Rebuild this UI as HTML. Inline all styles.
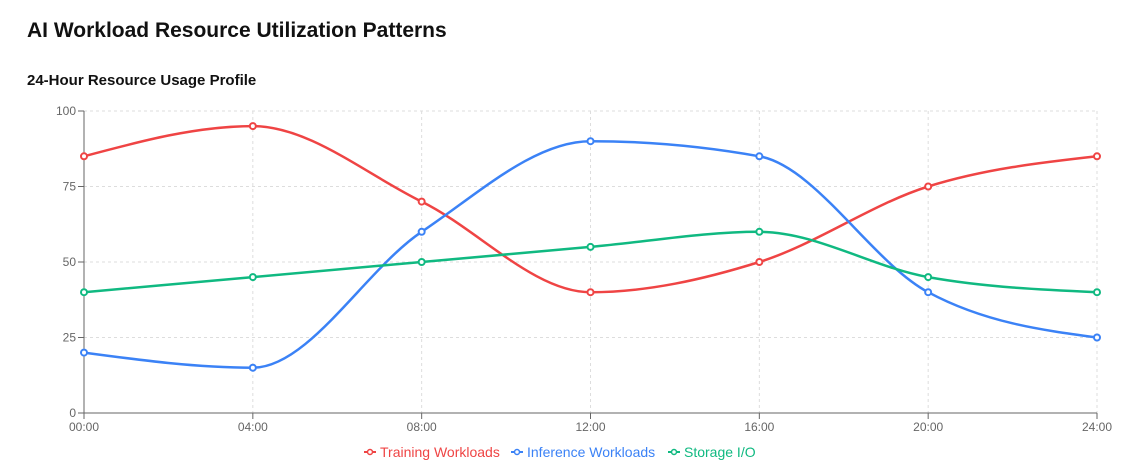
<!DOCTYPE html>
<html><head><meta charset="utf-8"><style>
body{margin:0;background:#fff;font-family:"Liberation Sans",sans-serif;width:1126px;height:473px;overflow:hidden;position:relative}
h1{position:absolute;left:27px;top:19px;margin:0;font-size:21px;font-weight:bold;color:#111}
h2{position:absolute;left:27px;top:72px;margin:0;font-size:15px;font-weight:bold;color:#111}
</style></head><body>
<h1>AI Workload Resource Utilization Patterns</h1>
<h2>24-Hour Resource Usage Profile</h2>
<svg id="chart" width="1126" height="473" style="position:absolute;left:0;top:0"></svg>
<script>
const categories=["00:00","04:00","08:00","12:00","16:00","20:00","24:00"];
const training=[85,95,70,40,50,75,85];
const inference=[20,15,60,90,85,40,25];
const storage=[40,45,50,55,60,45,40];
const yTicks=[0,25,50,75,100];
const seriesNames=["Training Workloads","Inference Workloads","Storage I/O"];
const seriesColors=["#ef4444","#3b82f6","#10b981"];
const NS="http://www.w3.org/2000/svg";
const svg=document.getElementById('chart');
const X0=84,X1=1097,Y0=413,Y1=111;
const xS=i=>X0+(X1-X0)*i/(categories.length-1);
const yS=v=>Y0-(Y0-Y1)*v/100;
function mk(t,a,p){const e=document.createElementNS(NS,t);for(const k in a)e.setAttribute(k,a[k]);(p||svg).appendChild(e);return e;}
// grid
yTicks.forEach(v=>{if(v>0){const g=mk('line',{x1:X0,x2:X1,y1:yS(v),y2:yS(v),stroke:'#ddd','stroke-dasharray':'3 3'});

}});
categories.forEach((c,i)=>{if(i>0){const g=mk('line',{x1:xS(i),x2:xS(i),y1:Y1,y2:Y0,stroke:'#ddd','stroke-dasharray':'3 3'});

}});
// axes
const ax=mk('line',{x1:X0,x2:X1,y1:Y0,y2:Y0,stroke:'#666'});


const ay=mk('line',{x1:X0,x2:X0,y1:Y1,y2:Y0,stroke:'#666'});


yTicks.forEach(v=>{mk('line',{x1:X0-6,x2:X0,y1:yS(v),y2:yS(v),stroke:'#666'});
const t=mk('text',{x:X0-8,y:yS(v)+4,'text-anchor':'end','font-size':12,fill:'#666'});t.textContent=v;

});
categories.forEach((c,i)=>{mk('line',{x1:xS(i),x2:xS(i),y1:Y0,y2:Y0+6,stroke:'#666'});
const t=mk('text',{x:xS(i),y:Y0+18,'text-anchor':'middle','font-size':12,fill:'#666'});t.textContent=c;

});
// monotone X path
function monoPath(pts){const n=pts.length;const d=[],m=[];
for(let i=0;i<n-1;i++){d.push((pts[i+1][1]-pts[i][1])/(pts[i+1][0]-pts[i][0]));}
for(let i=0;i<n;i++){if(i==0)m.push(d[0]);else if(i==n-1)m.push(d[n-2]);else{
if(d[i-1]*d[i]<=0)m.push(0);else{const h0=pts[i][0]-pts[i-1][0],h1=pts[i+1][0]-pts[i][0];
const p=(d[i-1]*h1+d[i]*h0)/(h0+h1);
m.push((Math.sign(d[i-1])+Math.sign(d[i]))*Math.min(Math.abs(d[i-1]),Math.abs(d[i]),0.5*Math.abs(p)));}}}
// endpoints like d3
if(n>2){const h=pts[1][0]-pts[0][0];m[0]=h?(3*d[0]-m[1])/2:m[1];m[n-1]=(3*d[n-2]-m[n-2])/2;}
let s=`M${pts[0][0]},${pts[0][1]}`;
for(let i=0;i<n-1;i++){const dx=(pts[i+1][0]-pts[i][0])/3;
s+=`C${pts[i][0]+dx},${pts[i][1]+m[i]*dx} ${pts[i+1][0]-dx},${pts[i+1][1]-m[i+1]*dx} ${pts[i+1][0]},${pts[i+1][1]}`;}
return s;}
[training,inference,storage].forEach((arr,si)=>{
const pts=arr.map((v,i)=>[xS(i),yS(v)]);
const p=mk('path',{d:monoPath(pts),fill:'none',stroke:seriesColors[si],'stroke-width':2.5});


pts.forEach(q=>{const c=mk('circle',{cx:q[0],cy:q[1],r:3,fill:'#fff',stroke:seriesColors[si],'stroke-width':2});

});
});
// legend
const lx=[364,511,668];
seriesNames.forEach((n,i)=>{
const g=mk('g',{});


mk('line',{x1:lx[i],x2:lx[i]+12,y1:452,y2:452,stroke:seriesColors[i],'stroke-width':2},g);
mk('circle',{cx:lx[i]+6,cy:452,r:2.5,fill:'#fff',stroke:seriesColors[i],'stroke-width':1.5},g);
const t=mk('text',{x:lx[i]+16,y:457,'font-size':14,fill:seriesColors[i]},g);t.textContent=n;});
</script>
</body></html>
